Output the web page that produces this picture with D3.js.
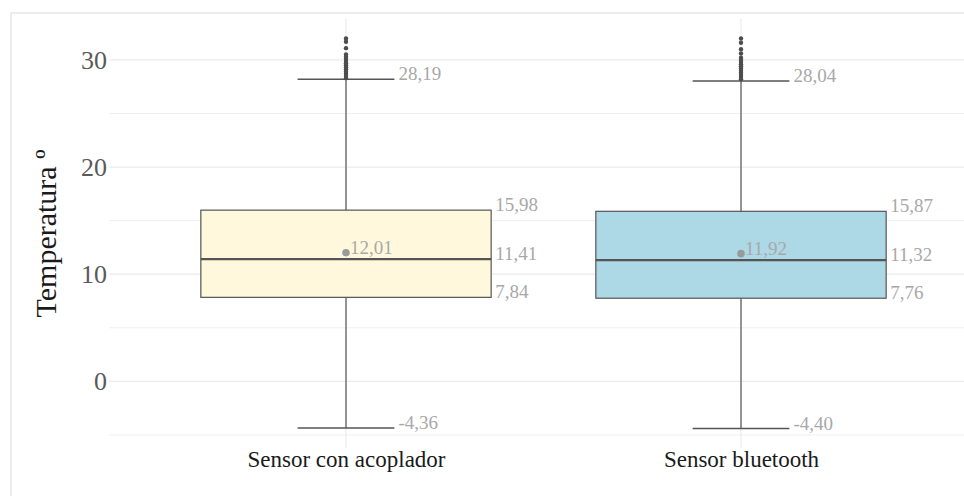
<!DOCTYPE html>
<html>
<head>
<meta charset="utf-8">
<script src="https://cdn.jsdelivr.net/npm/d3@7"></script>
<style>
  html, body { margin: 0; padding: 0; background: #fff; }
  svg { display: block; }
  text { font-family: "Liberation Serif", "DejaVu Serif", serif; }
</style>
</head>
<body>
<svg id="chart" width="964" height="496"></svg>
<script>
// Box plot statistics per sensor
const categories = ["Sensor con acoplador", "Sensor bluetooth"];
const lowerWhisker = [-4.36, -4.40];
const q1 = [7.84, 7.76];
const median = [11.41, 11.32];
const q3 = [15.98, 15.87];
const upperWhisker = [28.19, 28.04];
const means = [12.01, 11.92];
// Values above the upper whisker
const outliersAcoplador = [32.0, 31.7, 31.1, 30.5, 30.3, 30.1, 29.9, 29.7, 29.5, 29.3, 29.1, 28.9, 28.7, 28.5, 28.3];
const outliersBluetooth = [32.0, 31.6, 31.0, 30.6, 30.2, 30.0, 29.8, 29.6, 29.4, 29.2, 29.0, 28.8, 28.6, 28.4, 28.2];
const outliers = [outliersAcoplador, outliersBluetooth];
const yTicks = [0, 10, 20, 30];
const yMinorTicks = [-5, 5, 15, 25];

const boxFills = ["#FFF8DC", "#ADD8E6"];
// Decimal comma, plain hyphen for negatives
const fmt = v => v.toFixed(2).replace(".", ",");

const svg = d3.select("#chart");
const panel = { left: 109, right: 978, top: 19, bottom: 448 };

// y domain: data range with 5% expansion on each side
const allVals = lowerWhisker.concat(upperWhisker, outliersAcoplador, outliersBluetooth);
const lo = d3.min(allVals), hi = d3.max(allVals);
const pad = (hi - lo) * 0.05;
const y = d3.scaleLinear().domain([lo - pad, hi + pad]).range([panel.bottom, panel.top]);

const x = d3.scalePoint().domain(categories).range([panel.left, panel.right]).padding(0.6);
const step = x.step();
const boxW = step * 0.735;
const capW = step * 0.245;

// Outer frame
svg.append("rect")
  .attr("x", 11).attr("y", 13).attr("width", 1000).attr("height", 600)
  .attr("fill", "none").attr("stroke", "#e6e6e6").attr("stroke-width", 1.5);

// Grid
const grid = svg.append("g");
grid.selectAll("line.minor").data(yMinorTicks).join("line")
  .attr("x1", panel.left).attr("x2", panel.right)
  .attr("y1", d => y(d)).attr("y2", d => y(d))
  .attr("stroke", "#efefef").attr("stroke-width", 1);
grid.selectAll("line.major").data(yTicks).join("line")
  .attr("x1", panel.left).attr("x2", panel.right)
  .attr("y1", d => y(d)).attr("y2", d => y(d))
  .attr("stroke", "#ebebeb").attr("stroke-width", 1.2);
grid.selectAll("line.vert").data(categories).join("line")
  .attr("x1", d => x(d)).attr("x2", d => x(d))
  .attr("y1", panel.top).attr("y2", panel.bottom)
  .attr("stroke", "#ebebeb").attr("stroke-width", 1.2);

// Y axis labels
const yAxis = d3.axisLeft(y).tickValues(yTicks).tickSize(0).tickPadding(2).tickFormat(d3.format("d"));
const yg = svg.append("g").attr("transform", `translate(${panel.left},0)`).call(yAxis);
yg.select(".domain").remove();
yg.selectAll("text").attr("font-size", 26).attr("fill", "#5a5a5a")
  .style("font-family", "Liberation Serif, serif");

// X axis labels
const xAxis = d3.axisBottom(x).tickSize(0).tickPadding(3);
const xg = svg.append("g").attr("transform", `translate(0,${panel.bottom})`).call(xAxis);
xg.select(".domain").remove();
xg.selectAll("text").attr("font-size", 23).attr("fill", "#1a1a1a")
  .style("font-family", "Liberation Serif, serif");

// Y title
svg.append("text")
  .attr("transform", `translate(56,${(panel.top + panel.bottom) / 2}) rotate(-90)`)
  .attr("text-anchor", "middle")
  .attr("font-size", 30).attr("fill", "#1a1a1a")
  .text("Temperatura º");

const lineCol = "#555555";
const labelCol = "#a8a8a8";
const labelSize = 19;

categories.forEach((c, i) => {
  const cx = x(c);
  const g = svg.append("g");
  // whiskers
  g.append("line").attr("x1", cx).attr("x2", cx).attr("y1", y(q3[i])).attr("y2", y(upperWhisker[i]))
    .attr("stroke", lineCol).attr("stroke-width", 1.2);
  g.append("line").attr("x1", cx).attr("x2", cx).attr("y1", y(q1[i])).attr("y2", y(lowerWhisker[i]))
    .attr("stroke", lineCol).attr("stroke-width", 1.2);
  // caps
  [upperWhisker[i], lowerWhisker[i]].forEach(v => {
    g.append("line").attr("x1", cx - capW / 2).attr("x2", cx + capW / 2).attr("y1", y(v)).attr("y2", y(v))
      .attr("stroke", lineCol).attr("stroke-width", 1.4);
  });
  // box
  g.append("rect").attr("x", cx - boxW / 2).attr("width", boxW)
    .attr("y", y(q3[i])).attr("height", y(q1[i]) - y(q3[i]))
    .attr("fill", boxFills[i]).attr("stroke", lineCol).attr("stroke-width", 1.2);
  // median
  g.append("line").attr("x1", cx - boxW / 2).attr("x2", cx + boxW / 2)
    .attr("y1", y(median[i])).attr("y2", y(median[i]))
    .attr("stroke", lineCol).attr("stroke-width", 2.2);
  // outliers
  g.selectAll("circle.out").data(outliers[i]).join("circle")
    .attr("cx", cx).attr("cy", d => y(d)).attr("r", 2.2).attr("fill", "#4d4d4d");
  // mean
  g.append("circle").attr("cx", cx).attr("cy", y(means[i])).attr("r", 3.8).attr("fill", "#9a9a9a");

  // value labels
  const lab = (tx, v, txt) => g.append("text").attr("x", tx).attr("y", y(v) + 1)
    .attr("font-size", labelSize).attr("fill", labelCol).text(txt);
  lab(cx + 4, means[i], fmt(means[i]));
  lab(cx + capW / 2 + 4, upperWhisker[i], fmt(upperWhisker[i]));
  lab(cx + capW / 2 + 4, lowerWhisker[i], fmt(lowerWhisker[i]));
  lab(cx + boxW / 2 + 4, q3[i], fmt(q3[i]));
  lab(cx + boxW / 2 + 4, median[i], fmt(median[i]));
  lab(cx + boxW / 2 + 4, q1[i], fmt(q1[i]));
});
</script>
</body>
</html>
